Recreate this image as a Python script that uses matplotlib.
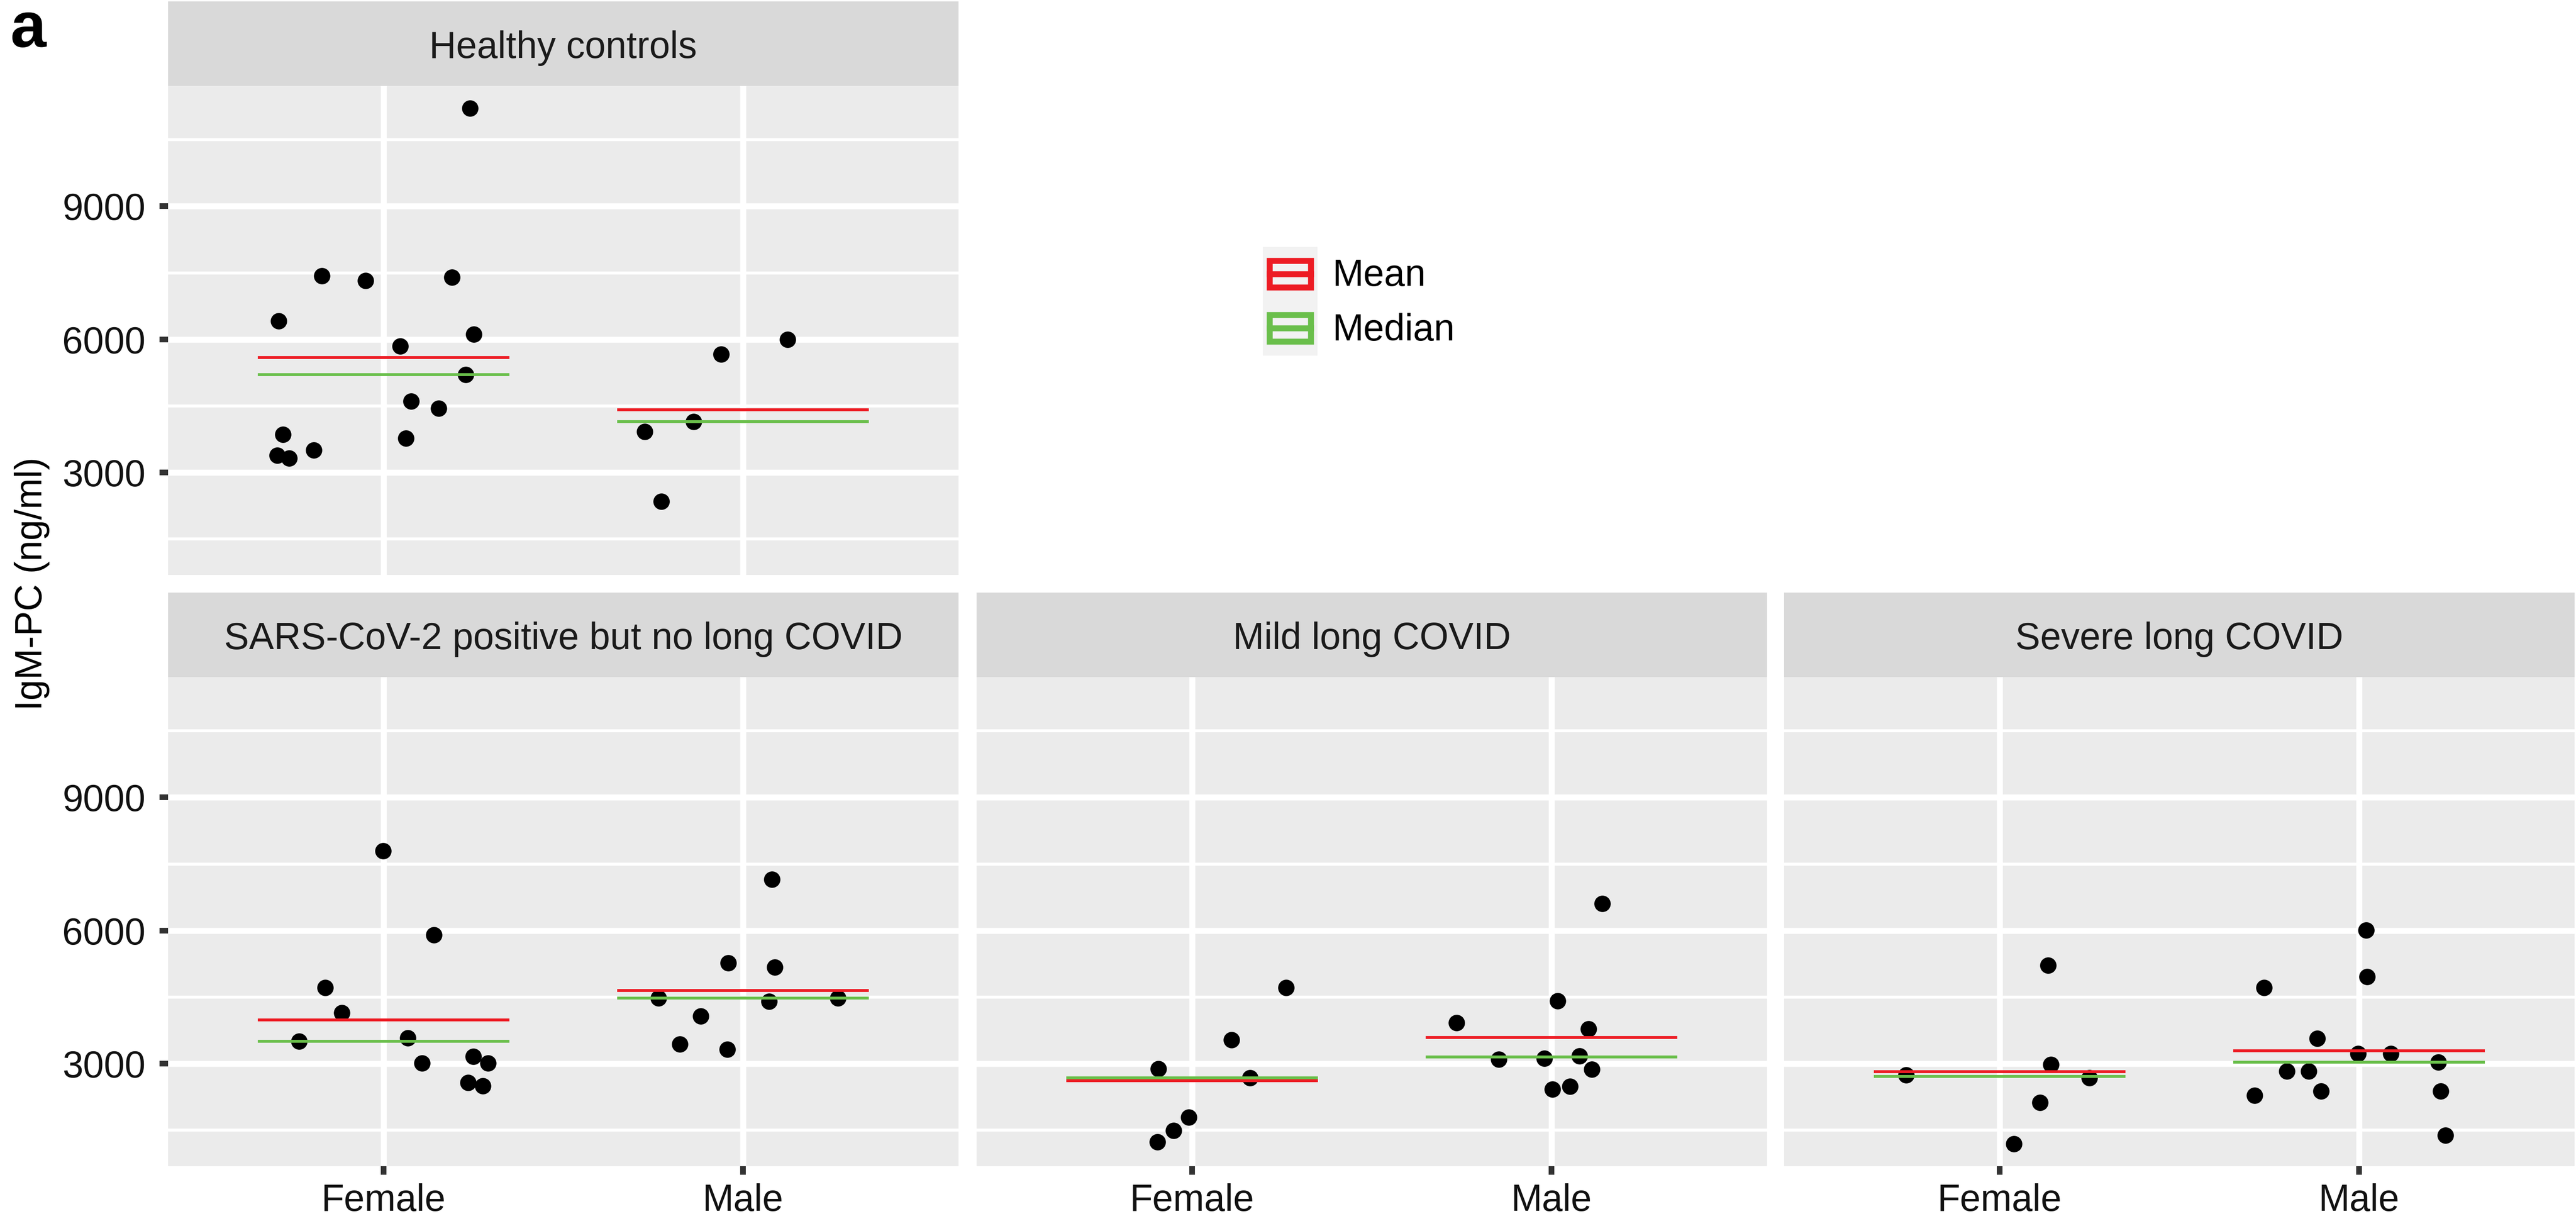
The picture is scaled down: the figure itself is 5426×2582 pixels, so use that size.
import numpy as np
import matplotlib.pyplot as plt
from matplotlib.patches import Rectangle
from matplotlib.lines import Line2D
from matplotlib.legend_handler import HandlerBase
from matplotlib.ticker import MultipleLocator

plt.rcParams['font.family'] = ['Liberation Sans', 'DejaVu Sans']

# =====================
# DATA (IgM-PC in ng/ml)
# *_x are the jittered horizontal positions of the dots (Female = 1, Male = 2)
# =====================
groups = ["Healthy controls", "SARS-CoV-2 positive but no long COVID",
          "Mild long COVID", "Severe long COVID"]
sexes = ["Female", "Male"]

healthy_f = [11210, 7433, 7320, 7398, 6417, 6113, 5852, 5209, 4602, 4447, 3854, 3769, 3508, 3388, 3317]
healthy_f_x = [1.240, 0.828, 0.950, 1.190, 0.708, 1.251, 1.046, 1.228, 1.077, 1.153, 0.720, 1.062, 0.806, 0.704, 0.737]
healthy_m = [6000, 5661, 4150, 3924, 2343]
healthy_m_x = [2.124, 1.939, 1.863, 1.726, 1.773]

sars_f = [7796, 5904, 4709, 4149, 3506, 3579, 3009, 3157, 3009, 2568, 2495]
sars_f_x = [0.998, 1.140, 0.838, 0.883, 0.765, 1.067, 1.107, 1.250, 1.290, 1.235, 1.276]
sars_m = [7153, 5270, 5169, 4480, 4406, 4480, 4075, 3441, 3322]
sars_m_x = [2.081, 1.959, 2.088, 1.765, 2.073, 2.264, 1.883, 1.824, 1.957]

mild_f = [4709, 3533, 2881, 2679, 1787, 1494, 1236]
mild_f_x = [1.262, 1.109, 0.906, 1.161, 0.991, 0.948, 0.904]
mild_m = [6602, 4415, 3919, 3781, 3175, 3120, 3092, 2872, 2486, 2421]
mild_m_x = [2.142, 2.017, 1.736, 2.103, 2.078, 1.980, 1.854, 2.112, 2.051, 2.003]

severe_f = [5215, 2982, 2743, 2679, 2127, 1190]
severe_f_x = [1.135, 1.143, 0.740, 1.250, 1.112, 1.040]
severe_m = [6005, 4957, 4709, 3570, 3230, 3230, 3028, 2826, 2826, 2375, 2375, 2284, 1383]
severe_m_x = [2.020, 2.023, 1.736, 1.884, 1.997, 2.089, 2.221, 1.799, 1.860, 1.895, 2.227, 1.709, 2.241]

panel_data = {
    groups[0]: [(healthy_f_x, healthy_f), (healthy_m_x, healthy_m)],
    groups[1]: [(sars_f_x, sars_f), (sars_m_x, sars_m)],
    groups[2]: [(mild_f_x, mild_f), (mild_m_x, mild_m)],
    groups[3]: [(severe_f_x, severe_f), (severe_m_x, severe_m)],
}

# =====================
# STYLE / LAYOUT
# =====================
W, H, DPI = 5426, 2582, 200
FS = 28.3
RED = "#ED1C24"
GREEN = "#6ABF4B"
PANEL_W, PANEL_H, STRIP_H = 1665, 1030, 178

# left / top of each panel's plotting area in pixels
layout = {
    groups[0]: (354, 181),
    groups[1]: (354, 1426),
    groups[2]: (2057, 1426),
    groups[3]: (3758, 1426),
}


def px_axes(fig, left, top, width, height):
    return fig.add_axes([left / W, 1 - (top + height) / H, width / W, height / H])


class CrossbarKey(HandlerBase):
    # ggplot-like crossbar legend key on a grey95 square
    def create_artists(self, legend, orig_handle, xdescent, ydescent,
                       width, height, fontsize, trans):
        x0, y0 = -xdescent, -ydescent
        c = orig_handle.get_color()
        bg = Rectangle((x0, y0), width, height, facecolor="#F2F2F2",
                       edgecolor="none", transform=trans)
        bw, bh = 0.75 * width, 0.49 * height
        bx, by = x0 + 0.125 * width, y0 + 0.255 * height
        box = Rectangle((bx, by), bw, bh, fill=False, edgecolor=c,
                        linewidth=4.5, transform=trans)
        mid = Line2D([bx, bx + bw], [by + bh / 2] * 2, color=c,
                     linewidth=4.5, transform=trans)
        return [bg, box, mid]


all_vals = np.concatenate([np.asarray(v) for pair in panel_data.values() for _, v in pair])
span = all_vals.max() - all_vals.min()
ylo, yhi = all_vals.min() - 0.05 * span, all_vals.max() + 0.05 * span

fig = plt.figure(figsize=(W / DPI, H / DPI), dpi=DPI)

for name in groups:
    left, top = layout[name]
    ax = px_axes(fig, left, top, PANEL_W, PANEL_H)
    ax.set_facecolor("#EBEBEB")
    ax.set_xlim(0.4, 2.6)
    ax.set_ylim(ylo, yhi)
    ax.yaxis.set_major_locator(MultipleLocator(3000))
    ax.yaxis.set_minor_locator(MultipleLocator(1500))
    ax.set_xticks([1, 2])
    ax.set_xticklabels(sexes)
    ax.set_axisbelow(True)
    ax.grid(which="major", color="white", linewidth=4.5)
    ax.grid(which="minor", axis="y", color="white", linewidth=2.3)
    for s in ax.spines.values():
        s.set_visible(False)
    ax.tick_params(which="minor", length=0)
    ax.tick_params(which="major", length=6.5, width=4.3, color="#333333",
                   labelsize=FS, labelcolor="#111111")
    ax.tick_params(axis="y", pad=10.5)
    ax.tick_params(axis="x", pad=6.5)
    if left != layout[groups[0]][0]:
        ax.tick_params(axis="y", left=False, labelleft=False)
    if name == groups[0]:
        ax.tick_params(axis="x", bottom=False, labelbottom=False)

    for pos, (xs, ys) in enumerate(panel_data[name], start=1):
        ax.scatter(xs, ys, s=155, color="black", linewidths=0, zorder=3)
        ax.hlines(np.mean(ys), pos - 0.35, pos + 0.35, color=RED, linewidth=2.2, zorder=4)
        ax.hlines(np.median(ys), pos - 0.35, pos + 0.35, color=GREEN, linewidth=2.2, zorder=4)

    # facet strip
    sax = px_axes(fig, left, top - STRIP_H, PANEL_W, STRIP_H)
    sax.set_facecolor("#D9D9D9")
    sax.set_xticks([])
    sax.set_yticks([])
    for s in sax.spines.values():
        s.set_visible(False)
    sax.text(0.5, 0.33, name, ha="center", va="baseline", fontsize=FS,
             color="#1A1A1A", transform=sax.transAxes)

# y axis title, centred over the whole panel block (strips included)
fig.text(68 / W, 1 - 1229 / H, "IgM-PC (ng/ml)", rotation=90, ha="center",
         va="center", fontsize=FS, color="black")

# panel tag
fig.text(22 / W, 1 - 99 / H, "a", fontsize=49, fontweight="bold", va="baseline")

# legend in the empty top-right area
h_mean = Line2D([], [], color=RED)
h_med = Line2D([], [], color=GREEN)
fs_px = FS * DPI / 72
fig.legend([h_mean, h_med], ["Mean", "Median"],
           handler_map={h_mean: CrossbarKey(xpad=0., ypad=0.), h_med: CrossbarKey(xpad=0., ypad=0.)},
           loc="upper left", bbox_to_anchor=(2660 / W, 1 - 520 / H),
           bbox_transform=fig.transFigure, frameon=False, fontsize=FS,
           handlelength=115 / fs_px, handleheight=1.86, labelspacing=0,
           handletextpad=0.4, borderpad=0, borderaxespad=0)

fig.savefig("out.png", dpi=DPI, facecolor="white")
